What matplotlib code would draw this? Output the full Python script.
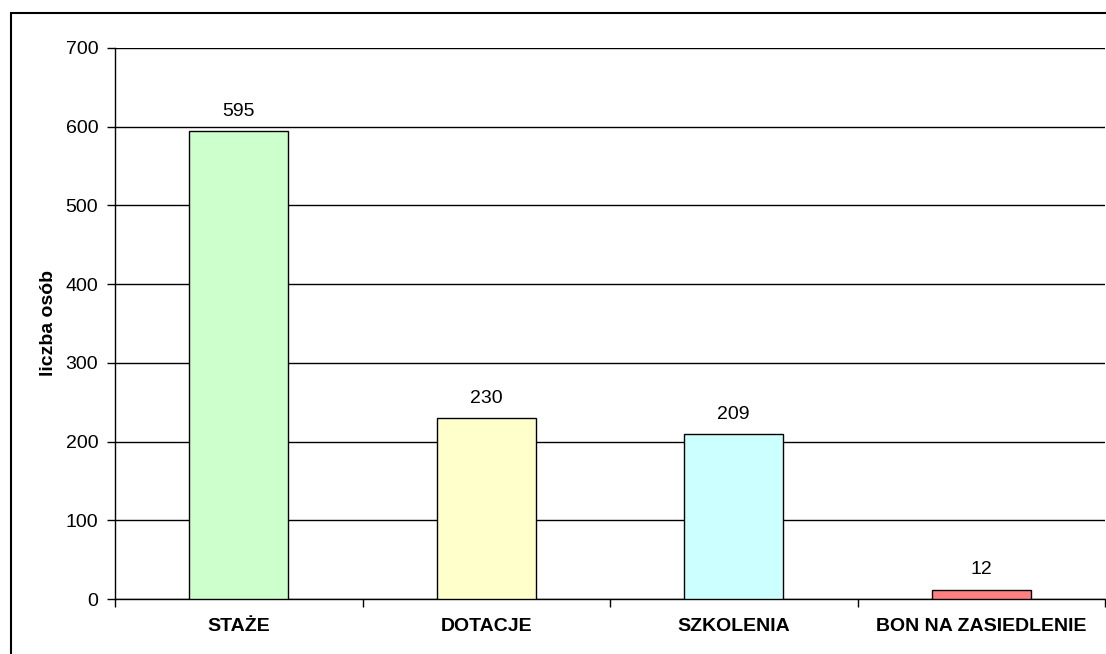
import matplotlib
matplotlib.use('Agg')
import matplotlib.pyplot as plt
from matplotlib.patches import Rectangle

categories = ['STAŻE', 'DOTACJE', 'SZKOLENIA', 'BON NA ZASIEDLENIE']
values = [595, 230, 209, 12]
colors = ['#CCFFCC', '#FFFFCC', '#CCFFFF', '#FF8080']
y_ticks = [0, 100, 200, 300, 400, 500, 600, 700]

plt.rcParams['font.family'] = ['Liberation Sans', 'DejaVu Sans']

fig = plt.figure(figsize=(11.06, 6.54), dpi=100)
ax = fig.add_axes([115 / 1106, 55 / 654, 990 / 1106, 551 / 654])

# outer frame of the chart area, running off the right and bottom edges
fig.patches.append(Rectangle((11 / 1106, -0.05), 1.2, 1 - 13 / 654 + 0.05,
                             transform=fig.transFigure, fill=False,
                             edgecolor='black', linewidth=1.5))

x = range(len(categories))
bars = ax.bar(x, values, width=0.4, color=colors, edgecolor='black', linewidth=1, zorder=3)

for rect, v in zip(bars, values):
    ax.annotate(str(v), (rect.get_x() + rect.get_width() / 2, v),
                xytext=(0, 8), textcoords='offset points',
                ha='center', va='bottom', fontsize=14)

ax.set_xlim(-0.5, len(categories) - 0.5)
ax.set_ylim(0, 700)
ax.set_yticks(y_ticks)
ax.tick_params(axis='y', labelsize=14, direction='out', length=6, width=1, pad=6)
ax.yaxis.grid(True, color='black', linewidth=1, zorder=0)

ax.set_xticks(x)
ax.set_xticklabels(categories, fontsize=14, fontweight='bold')
ax.tick_params(axis='x', length=0, pad=14)
ax.set_xticks([i - 0.5 for i in range(len(categories) + 1)], minor=True)
ax.tick_params(axis='x', which='minor', direction='out', length=6, width=1)

ax.set_ylabel('liczba osób', fontsize=14, fontweight='bold', labelpad=6)

for s in ['top', 'right']:
    ax.spines[s].set_visible(False)
ax.spines['left'].set_linewidth(1)
ax.spines['bottom'].set_linewidth(1)

fig.savefig('out.png', dpi=100)
